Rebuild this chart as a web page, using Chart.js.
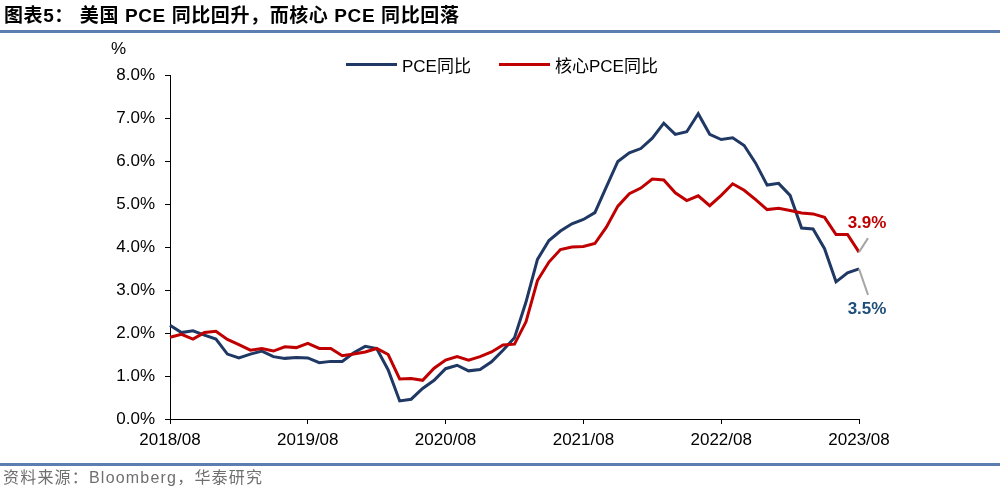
<!DOCTYPE html>
<html>
<head>
<meta charset="utf-8">
<script src="https://cdn.jsdelivr.net/npm/chart.js@4/dist/chart.umd.min.js"></script>
<style>
  html, body { margin: 0; padding: 0; background: #fff; }
  #wrap { position: relative; width: 1000px; height: 492px; overflow: hidden; background: #fff;
          font-family: 'Liberation Sans', Arial, 'Noto Sans CJK SC', sans-serif; }
  #c { position: absolute; left: 0; top: 0; }
  .title { position: absolute; left: 4px; top: 5px; font-size: 19px; line-height: 22px; font-weight: bold; color: #000;
           font-family: 'Liberation Sans', Arial, 'Noto Sans CJK SC', sans-serif; letter-spacing: 0.6px; white-space: nowrap; }
  .rule { position: absolute; left: 0; width: 1000px; height: 3px; background: #5B7DB0; }
  .source { position: absolute; left: 3px; top: 468px; font-size: 16px; line-height: 20px; color: #6F6F6F; white-space: nowrap;
            font-family: 'Liberation Sans', Arial, 'Noto Sans CJK SC', sans-serif; letter-spacing: 1.2px; }
  .unit { position: absolute; left: 111px; top: 39px; font-size: 17px; line-height: 20px; color: #000; }
  .leg { position: absolute; top: 54px; height: 20px; display: flex; align-items: center; font-size: 17px; color: #000; white-space: nowrap; }
  .leg .ln { width: 51px; height: 3px; margin-right: 5px; }
</style>
</head>
<body>
<div id="wrap">
  <canvas id="c" width="1000" height="492"></canvas>
  <div class="title">图表5：&nbsp;美国 PCE 同比回升，而核心 PCE 同比回落</div>
  <div class="rule" style="top:30px"></div>
  <div class="unit">%</div>
  <div class="leg" style="left:346px"><span class="ln" style="background:#1F3864"></span><span>PCE同比</span></div>
  <div class="leg" style="left:499px"><span class="ln" style="background:#C00000"></span><span>核心PCE同比</span></div>
  <div class="rule" style="top:463px"></div>
  <div class="source">资料来源：Bloomberg，华泰研究</div>
</div>
<script>
// ---- data ----
const months = [
  '2018/08','2018/09','2018/10','2018/11','2018/12',
  '2019/01','2019/02','2019/03','2019/04','2019/05','2019/06','2019/07','2019/08','2019/09','2019/10','2019/11','2019/12',
  '2020/01','2020/02','2020/03','2020/04','2020/05','2020/06','2020/07','2020/08','2020/09','2020/10','2020/11','2020/12',
  '2021/01','2021/02','2021/03','2021/04','2021/05','2021/06','2021/07','2021/08','2021/09','2021/10','2021/11','2021/12',
  '2022/01','2022/02','2022/03','2022/04','2022/05','2022/06','2022/07','2022/08','2022/09','2022/10','2022/11','2022/12',
  '2023/01','2023/02','2023/03','2023/04','2023/05','2023/06','2023/07','2023/08'
];
const xTickLabels = ['2018/08','2019/08','2020/08','2021/08','2022/08','2023/08'];
const pceYoY = [
  2.18, 2.01, 2.05, 1.95, 1.86,
  1.51, 1.42, 1.51, 1.58, 1.45, 1.41, 1.43, 1.42, 1.31, 1.34, 1.34, 1.54,
  1.69, 1.64, 1.14, 0.42, 0.46, 0.71, 0.90, 1.17, 1.25, 1.12, 1.15, 1.33,
  1.60, 1.89, 2.72, 3.71, 4.15, 4.37, 4.54, 4.64, 4.80, 5.40, 5.99, 6.19,
  6.29, 6.53, 6.88, 6.62, 6.68, 7.10, 6.62, 6.50, 6.54, 6.36, 5.95, 5.44,
  5.48, 5.20, 4.44, 4.42, 3.96, 3.19, 3.40, 3.49
];
const corePceYoY = [
  1.90, 1.97, 1.86, 2.01, 2.04,
  1.85, 1.73, 1.60, 1.64, 1.58, 1.68, 1.66, 1.76, 1.64, 1.64, 1.47, 1.51,
  1.56, 1.64, 1.50, 0.93, 0.94, 0.90, 1.18, 1.37, 1.45, 1.37, 1.45, 1.56,
  1.72, 1.74, 2.26, 3.22, 3.65, 3.94, 4.00, 4.01, 4.08, 4.46, 4.95, 5.24,
  5.37, 5.58, 5.56, 5.26, 5.08, 5.19, 4.96, 5.20, 5.47, 5.32, 5.10, 4.87,
  4.90, 4.85, 4.79, 4.77, 4.69, 4.29, 4.29, 3.88
];
const yTicks = [0, 1, 2, 3, 4, 5, 6, 7, 8];
const seriesNames = ['PCE同比', '核心PCE同比'];

const BLUE = '#1F3864', RED = '#C00000';
const FONT = "'Liberation Sans', Arial, 'Noto Sans CJK SC', sans-serif";

const endLabels = {
  id: 'endLabels',
  afterDatasetsDraw(chart) {
    const ctx = chart.ctx;
    const specs = [
      { ds: 1, color: RED, lx: 9, ly: -14, tx: 8, ty: -29 },
      { ds: 0, color: '#1F4E79', lx: 9, ly: 26, tx: 8, ty: 40 }
    ];
    ctx.save();
    specs.forEach(s => {
      const meta = chart.getDatasetMeta(s.ds);
      const pt = meta.data[meta.data.length - 1];
      const data = chart.data.datasets[s.ds].data;
      const v = data[data.length - 1];
      ctx.strokeStyle = '#A6A6A6';
      ctx.lineWidth = 2;
      ctx.beginPath();
      ctx.moveTo(pt.x, pt.y);
      ctx.lineTo(pt.x + s.lx, pt.y + s.ly);
      ctx.stroke();
      ctx.fillStyle = s.color;
      ctx.font = 'bold 17px ' + FONT;
      ctx.textAlign = 'center';
      ctx.textBaseline = 'middle';
      ctx.fillText(v.toFixed(1) + '%', pt.x + s.tx, pt.y + s.ty);
    });
    ctx.restore();
  }
};

new Chart(document.getElementById('c'), {
  type: 'line',
  data: {
    labels: months,
    datasets: [
      { label: seriesNames[0], data: pceYoY, borderColor: BLUE, backgroundColor: BLUE, borderWidth: 3, pointRadius: 0, tension: 0, order: 1 },
      { label: seriesNames[1], data: corePceYoY, borderColor: RED, backgroundColor: RED, borderWidth: 3, pointRadius: 0, tension: 0, order: 0 }
    ]
  },
  options: {
    responsive: false,
    animation: false,
    devicePixelRatio: 1,
    layout: { padding: { left: 0, right: 141, top: 75, bottom: 0 } },
    plugins: { legend: { display: false }, tooltip: { enabled: false }, title: { display: false } },
    scales: {
      x: {
        type: 'category',
        offset: false,
        afterFit: s => { s.height = 73; },
        border: { color: '#000', width: 1 },
        grid: {
          drawOnChartArea: false, drawTicks: true, tickLength: 5,
          color: c => (xTickLabels.includes(months[c.index]) ? '#000' : 'rgba(0,0,0,0)')
        },
        ticks: {
          autoSkip: false, maxRotation: 0, minRotation: 0, padding: 6,
          color: '#000', font: { family: FONT, size: 17 },
          callback: (v, i) => (xTickLabels.includes(months[i]) ? months[i] : '')
        }
      },
      y: {
        min: 0, max: 8,
        afterFit: s => { s.width = 170; },
        afterBuildTicks: s => { s.ticks = yTicks.map(v => ({ value: v })); },
        border: { color: '#000', width: 1 },
        grid: { drawOnChartArea: false, drawTicks: true, tickLength: 5, color: '#000' },
        ticks: {
          padding: 10, color: '#000', font: { family: FONT, size: 17 },
          callback: v => v.toFixed(1) + '%'
        }
      }
    }
  },
  plugins: [endLabels]
});
</script>
</body>
</html>
